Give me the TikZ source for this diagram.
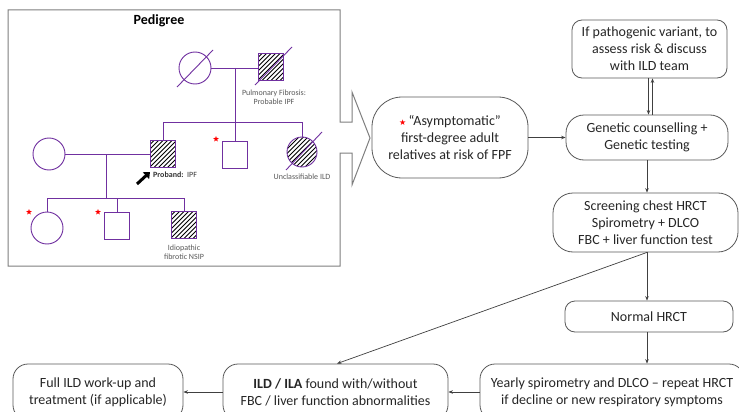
\documentclass[tikz,border=0pt]{standalone}
\usepackage{fontspec}
\setmainfont{Carlito}
\newfontfamily\symfont{DejaVu Sans}
\usetikzlibrary{shapes.geometric,arrows.meta,calc}
\definecolor{ped}{HTML}{7030A0}
\definecolor{frame}{HTML}{7F7F7F}
\definecolor{boxc}{HTML}{595959}
\definecolor{linec}{HTML}{404040}
\definecolor{lbl}{HTML}{595959}
\begin{document}
\begin{tikzpicture}[x=1pt,y=-1pt,
  pl/.style={draw=ped,line width=0.9pt},
  male/.style={pl,rectangle,minimum width=25pt,minimum height=27pt,inner sep=0pt,fill=white},
  female/.style={pl,circle,minimum size=#1,inner sep=0pt,fill=white},
  aff/.style={path picture={
    \foreach \k in {-36,-31.5,...,36}{
      \draw[black,line width=0.9pt] ($(path picture bounding box.center)+(\k-20,20)$) -- ($(path picture bounding box.center)+(\k+20,-20)$);
    }}},
  slash/.style={draw=ped,line width=0.9pt},
  rstar/.style={star,star points=5,star point ratio=2.3,fill=red,draw=none,minimum size=6pt,inner sep=0pt},
  plabel/.style={font=\fontsize{8}{9}\selectfont,text=lbl,align=center,inner sep=0pt},
  fbox/.style={draw=boxc,line width=0.8pt,align=center,inner sep=0pt,font=\fontsize{14}{17}\selectfont,text=black!85},
  arr/.style={draw=linec,line width=0.7pt,-{Stealth[length=4.5pt,width=3.5pt]}}
]
\useasboundingbox (0,0) rectangle (739,412);
\clip (0,0) rectangle (739,412);
\fill[white] (0,0) rectangle (739,412);

% pedigree frame with arrow
\draw[frame,line width=1pt] (8,10) -- (340,10) -- (340,122) -- (352,122) -- (352,92) -- (370,138) -- (352,185) -- (352,153) -- (340,153) -- (340,266) -- (8,266) -- cycle;
\node[font=\bfseries\fontsize{14}{16}\selectfont] (title) at (159,21) {Pedigree};

% generation I
\coordinate (d1) at (235,68);
\coordinate (s1l) at (163,122);
\coordinate (s1m) at (235,122);
\coordinate (s1r) at (302,122);
\draw[pl] (195,68) -- (271,68);
\draw[pl] (d1) -- (s1m);
\draw[pl] (s1l) -- (s1r);
\node[female=32pt] (gm) at (195,68) {};
\node[male,aff] (gf) at (271,67) {};
\draw[slash] (177,87) -- (213,50);
\draw[slash] (255,85) -- (292,47);
\node[plabel] (gflab) at (274,97) {Pulmonary Fibrosis:\\Probable IPF};

% generation II
\coordinate (d2) at (106,154);
\coordinate (s2l) at (47,198);
\coordinate (s2m) at (117,198);
\coordinate (s2r) at (184,198);
\draw[pl] (49,154) -- (163,154);
\draw[pl] (d2) -- (106,198);
\draw[pl] (s2l) -- (s2r);
\node[female=32pt] (sp) at (49,154) {};
\node[male,aff] (pb) at (163,154) {};
\node[male] (sib) at (235,155) {};
\node[female=30pt,aff] (ucl) at (302,152) {};
\draw[pl] (s1l) -- (pb.north);
\draw[pl] (s1m) -- (sib.north);
\draw[pl] (s1r) -- (ucl.north);
\draw[slash] (286,170) -- (322,132);
\node[rstar] (st1) at (216,139) {};
\node[plabel] (ucllab) at (302,177) {Unclassifiable ILD};
\coordinate (pa1) at (137,184);
\coordinate (pa2) at (150,172);
\draw[black,line width=3pt,-{Triangle[length=5.5pt,width=9pt]}] (pa1) -- (pa2);
\node[plabel,anchor=west,text=black!80] (pblab) at (153,175) {\textbf{Proband:}\ \ IPF};

% generation III
\node[female=32pt] (c1) at (47,228) {};
\node[male] (c2) at (117,226) {};
\node[male,aff] (c3) at (184,225) {};
\draw[pl] (s2l) -- (c1.north);
\draw[pl] (s2m) -- (c2.north);
\draw[pl] (s2r) -- (c3.north);
\node[rstar] (st2) at (29,212) {};
\node[rstar] (st3) at (98,212) {};
\node[plabel] (c3lab) at (184,252) {Idiopathic\\fibrotic NSIP};

% flowchart
\node[fbox,rounded corners=30pt,minimum width=156pt,minimum height=81pt] (asym) at (450,137.5)
  {{\symfont\color{red}\fontsize{8}{8}\selectfont ★}\,“Asymptomatic”\\first-degree adult\\relatives at risk of FPF};
\node[fbox,rounded corners=18pt,minimum width=162pt,minimum height=45pt] (gen) at (647,137.5)
  {Genetic counselling +\\Genetic testing};
\node[fbox,rounded corners=10pt,minimum width=155pt,minimum height=58pt] (top) at (649.5,49)
  {If pathogenic variant, to\\assess risk \& discuss\\with ILD team};
\node[fbox,rounded corners=20pt,minimum width=185pt,minimum height=59pt] (scr) at (645.5,222.5)
  {Screening chest HRCT\\Spirometry + DLCO\\FBC + liver function test};
\node[fbox,rounded corners=10pt,minimum width=168pt,minimum height=31pt] (norm) at (649,316.5)
  {Normal HRCT};
\node[fbox,rounded corners=15pt,minimum width=264pt,minimum height=56pt] (year) at (612,392)
  {Yearly spirometry and DLCO – repeat HRCT\\if decline or new respiratory symptoms};
\node[fbox,rounded corners=15pt,minimum width=225pt,minimum height=56pt] (ild) at (335.5,392)
  {\textbf{ILD / ILA} found with/without\\FBC / liver function abnormalities};
\node[fbox,rounded corners=15pt,minimum width=170pt,minimum height=56pt] (full) at (98,392)
  {Full ILD work-up and\\treatment (if applicable)};

\draw[arr] (asym.east) -- (gen.west);
\draw[arr] ([xshift=-1pt]top.south) -- ([xshift=-1pt]top.south |- gen.north);
\draw[arr] ([xshift=3pt]top.south |- gen.north) -- ([xshift=3pt]top.south);
\draw[arr] (gen.south) -- (gen.south |- scr.north);
\coordinate (sb) at (gen.south |- scr.south);
\draw[arr] (sb) -- (sb |- norm.north);
\draw[arr] (sb) -- ([xshift=1.5pt]ild.north);
\draw[arr] (sb |- norm.south) -- (sb |- year.north);
\draw[arr] (year.west) -- (ild.east);
\draw[arr] (ild.west) -- (full.east);
\end{tikzpicture}
\end{document}
